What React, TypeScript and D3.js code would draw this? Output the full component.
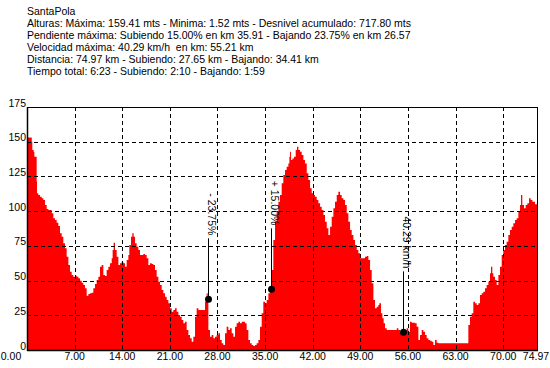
import React from "react";
import * as d3 from "d3";

const title = "SantaPola";
const infoLines = [
  "Alturas: Máxima: 159.41 mts - Minima: 1.52 mts - Desnivel acumulado: 717.80 mts",
  "Pendiente máxima: Subiendo 15.00% en km 35.91 - Bajando 23.75% en km 26.57",
  "Velocidad máxima: 40.29 km/h  en km: 55.21 km",
  "Distancia: 74.97 km - Subiendo: 27.65 km - Bajando: 34.41 km",
  "Tiempo total: 6:23 - Subiendo: 2:10 - Bajando: 1:59",
];

const distanceKm = [
  0, 0.69, 0.7, 0.78, 0.98, 1.08, 1.32, 1.42, 1.47, 1.67, 1.91, 2.16, 2.4, 2.65, 2.89, 3.14, 3.38, 3.63, 3.87, 4.12,
  4.36, 4.61, 4.85, 5.1, 5.34, 5.59, 5.83, 6.08, 6.32, 6.57, 6.81, 7.06, 7.3, 7.55, 7.79, 8.04, 8.28, 8.53, 8.77, 9.02,
  9.26, 9.51, 9.75, 10.0, 10.24, 10.49, 10.73, 10.98, 11.22, 11.47, 11.71, 11.96, 12.2, 12.45, 12.59, 12.74, 12.94, 13.18, 13.43, 13.67,
  13.92, 14.16, 14.41, 14.65, 14.9, 15.04, 15.29, 15.48, 15.68, 15.88, 16.12, 16.37, 16.61, 16.86, 17.1, 17.35, 17.59, 17.84, 18.08, 18.33,
  18.57, 18.82, 19.06, 19.31, 19.55, 19.8, 20.04, 20.29, 20.53, 20.78, 21.02, 21.27, 21.51, 21.76, 22.0, 22.25, 22.49, 22.74, 22.98, 23.23,
  23.47, 23.72, 23.96, 24.21, 24.45, 24.7, 24.94, 25.19, 25.92, 26.17, 26.41, 26.57, 26.66, 26.9, 27.15, 27.39, 27.64, 27.88, 28.13, 28.37,
  28.62, 28.86, 29.11, 29.35, 29.6, 29.84, 30.09, 30.33, 30.58, 30.82, 31.07, 31.31, 31.56, 32.05, 32.29, 32.54, 32.78, 33.03, 33.27, 33.52,
  33.76, 34.01, 34.25, 34.5, 34.74, 34.99, 35.23, 35.48, 35.72, 35.97, 36.21, 36.46, 36.7, 36.95, 37.19, 37.44, 37.68, 37.93, 38.17, 38.42,
  38.57, 38.67, 38.81, 39.01, 39.25, 39.5, 39.69, 39.89, 40.14, 40.38, 40.63, 40.87, 41.12, 41.36, 41.61, 41.85, 42.1, 42.34, 42.59, 42.83,
  43.08, 43.32, 43.57, 43.81, 44.06, 44.3, 44.55, 44.79, 45.04, 45.28, 45.53, 45.77, 46.02, 46.26, 46.51, 46.75, 47.0, 47.24, 47.49, 47.73,
  47.98, 48.22, 48.47, 48.71, 48.96, 49.45, 49.69, 49.94, 50.18, 50.43, 50.67, 50.92, 51.16, 51.41, 51.65, 51.8, 52.04, 52.24, 52.43, 52.63,
  52.88, 54.1, 54.35, 54.59, 54.84, 55.32, 55.57, 55.81, 56.06, 56.3, 56.55, 57.04, 57.28, 57.53, 57.77, 58.02, 58.26, 58.51, 58.75, 59.0,
  59.24, 59.49, 59.73, 59.98, 60.22, 60.47, 64.63, 64.88, 65.12, 65.37, 65.61, 65.86, 66.1, 66.35, 66.59, 66.84, 67.08, 67.33, 67.57, 67.82,
  68.06, 68.21, 68.4, 68.55, 68.8, 69.04, 69.29, 69.53, 69.78, 70.02, 70.27, 70.51, 70.76, 71.0, 71.25, 71.49, 71.74, 71.98, 72.23, 72.47,
  72.62, 72.81, 73.06, 73.3, 73.55, 73.8, 74.04, 74.29, 74.68, 74.97,
];

const elevationM = [
  153, 153, 150, 144, 142.8, 139.2, 139.2, 121.2, 112.8, 111.6, 110.4, 109.2, 108.0, 104.4, 101.5, 100.8, 100.8, 98.4, 94.8, 93.6,
  91.7, 89.3, 84.0, 81.6, 76.8, 73.2, 67.2, 61.2, 56.4, 54.0, 52.8, 53.5, 52.8, 51.6, 49.9, 48.5, 46.8, 44.4, 39.1, 40.3,
  40.8, 41.3, 44.4, 47.5, 50.4, 52.8, 60.0, 61.2, 54.0, 53.3, 57.6, 60.0, 62.4, 66.0, 72.0, 77.3, 72.0, 67.2, 61.2, 62.4,
  63.6, 62.4, 60.0, 64.8, 68.4, 75.6, 81.6, 84.0, 81.6, 76.8, 74.4, 72.0, 68.4, 68.4, 69.1, 68.4, 66.0, 61.2, 62.4, 61.9,
  61.2, 57.6, 52.8, 49.2, 46.8, 43.2, 40.8, 38.4, 36.0, 33.6, 30.0, 27.6, 28.8, 30.0, 27.6, 25.2, 24.0, 21.6, 19.2, 20.4,
  14.4, 10.8, 8.4, 6.0, 9.6, 24.0, 30.0, 28.8, 28.8, 34.8, 40.8, 36.5, 14.4, 9.6, 10.8, 8.4, 9.6, 10.8, 12.0, 7.2,
  4.8, 3.6, 12.0, 16.8, 14.4, 15.6, 12.0, 9.6, 16.8, 19.2, 20.4, 19.2, 20.4, 19.2, 14.4, 7.2, 4.8, 3.6, 2.9, 3.6,
  4.8, 7.2, 16.8, 26.4, 34.8, 33.6, 36.0, 40.8, 43.2, 57.6, 79.2, 92.4, 99.6, 106.8, 111.6, 120.0, 126.0, 129.6, 132.0, 134.4,
  139.2, 142.8, 136.8, 138.0, 139.2, 144.0, 146.4, 144.0, 142.8, 140.4, 136.8, 134.4, 127.2, 122.4, 116.4, 112.8, 111.6, 110.4, 108.0, 105.6,
  103.2, 100.8, 97.2, 92.4, 87.6, 82.8, 88.8, 96.0, 102.0, 106.8, 111.6, 114.0, 111.6, 109.2, 108.0, 104.4, 98.4, 92.4, 86.4, 82.8,
  79.2, 75.6, 72.0, 69.6, 66.0, 66.0, 67.2, 67.7, 64.8, 57.6, 48.0, 36.0, 30.0, 31.2, 32.4, 33.6, 26.4, 22.8, 19.2, 15.6,
  14.4, 14.4, 15.6, 14.4, 13.2, 13.2, 14.4, 15.6, 13.2, 20.4, 19.7, 19.2, 16.8, 7.2, 10.8, 14.4, 13.2, 10.8, 8.4, 7.2,
  6.7, 6.0, 3.6, 7.2, 5.3, 4.8, 4.8, 18.0, 24.0, 26.4, 34.8, 33.6, 32.4, 33.6, 39.6, 40.8, 42.0, 44.4, 46.8, 49.2,
  55.2, 60.0, 55.2, 52.8, 50.4, 46.8, 54.0, 60.0, 68.4, 72.0, 75.6, 78.0, 82.8, 86.4, 88.8, 91.2, 93.6, 94.8, 99.6, 104.4,
  111.6, 104.4, 102.0, 104.4, 105.6, 109.2, 108.0, 106.8, 105.0, 105.0,
];

const xTicks = [0, 7, 14, 21, 28, 35, 42, 49, 56, 63, 70, 74.97];
const yTicks = [0, 25, 50, 75, 100, 125, 150, 175];

const markKm = [26.57, 35.91, 55.21];
const markElev = [36.5, 43.7, 12.7];
const markLabel = ["- 23.75%", "+ 15.00%", "40.29 km/h"];

const W = 550;
const H = 368;
const left = 27;
const right = 537;
const top = 107;
const bottom = 350;
const FONT = "'Liberation Sans', Arial, sans-serif";

export default function App() {
  const x = d3.scaleLinear().domain([0, 74.97]).range([left, right]);
  const y = d3.scaleLinear().domain([0, 175]).range([bottom, top]);
  const pts = distanceKm.map((d, i) => [d, elevationM[i]] as [number, number]);
  const area = d3
    .area<[number, number]>()
    .x((d) => x(d[0]))
    .y0(bottom)
    .y1((d) => y(d[1]))
    .curve(d3.curveStepAfter);

  return (
    <svg
      width={W}
      height={H}
      style={{ position: "absolute", left: 0, top: 0, background: "#fff" }}
      fontFamily={FONT}
      fontSize={10.5}
    >
      <rect x={0} y={0} width={W} height={H} fill="#fff" />
      <text x={27} y={15} fill="#000">{title}</text>
      {infoLines.map((t, i) => (
        <text key={i} x={27} y={27 + i * 12} fill="#000" style={{ whiteSpace: "pre" }}>
          {t}
        </text>
      ))}
      <path d={area(pts) || ""} fill="#ff0000" />
      {yTicks.slice(1, -1).map((t) => (
        <line
          key={"gy" + t}
          x1={left}
          x2={right}
          y1={Math.round(y(t)) + 0.5}
          y2={Math.round(y(t)) + 0.5}
          stroke="#000"
          strokeDasharray="4,3"
        />
      ))}
      {xTicks.slice(1, -1).map((t) => (
        <line
          key={"gx" + t}
          x1={Math.round(x(t)) + 0.5}
          x2={Math.round(x(t)) + 0.5}
          y1={top}
          y2={bottom}
          stroke="#000"
          strokeDasharray="4,3"
        />
      ))}
      <rect x={left + 0.5} y={top + 0.5} width={right - left} height={bottom - top} fill="none" stroke="#000" />
      <line x1={left + 0.5} x2={left + 0.5} y1={top} y2={bottom + 1} stroke="#000" strokeWidth={1.5} />
      <line x1={left} x2={right + 1} y1={bottom + 0.5} y2={bottom + 0.5} stroke="#000" strokeWidth={1.5} />
      {yTicks.map((t) => (
        <text key={"ty" + t} x={26} y={y(t) - 0.5} textAnchor="end" fill="#000">
          {t}
        </text>
      ))}
      {xTicks.map((t, i) => {
        let cx = x(t);
        if (i === 0) cx = 11;
        if (i === xTicks.length - 1) cx = 536;
        return (
          <text key={"tx" + t} x={cx} y={360} textAnchor="middle" fill="#000">
            {t.toFixed(2)}
          </text>
        );
      })}
      {markKm.map((k, i) => {
        const mx = Math.round(x(k)) + 0.5;
        const my = y(markElev[i]);
        return (
          <g key={"m" + i}>
            <line x1={mx} x2={mx} y1={my} y2={my - 61} stroke="#000" />
            <circle cx={mx} cy={my} r={3.5} fill="#000" />
            <text
              transform={`translate(${mx - 1},${my - 64}) rotate(90)`}
              textAnchor="end"
              fill="#000"
            >
              {markLabel[i]}
            </text>
          </g>
        );
      })}
    </svg>
  );
}
